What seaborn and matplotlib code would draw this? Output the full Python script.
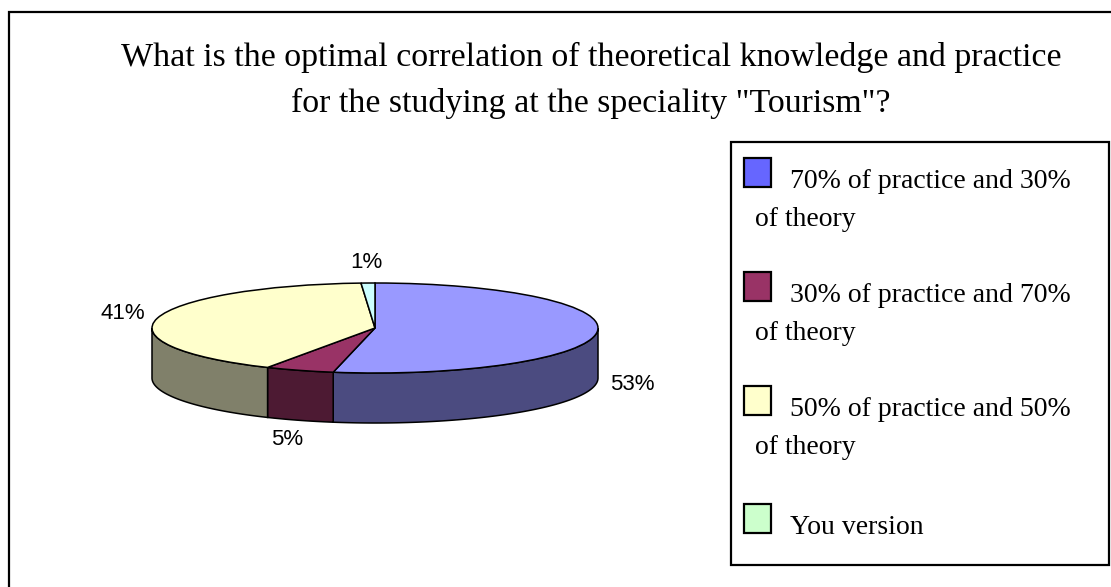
import numpy as np
import seaborn as sns
import matplotlib.pyplot as plt
from matplotlib.patches import Rectangle, Polygon

categories = ['70% of practice and 30%\nof theory',
              '30% of practice and 70%\nof theory',
              '50% of practice and 50%\nof theory',
              'You version']
values = [53, 5, 41, 1]
labels = ['53%', '5%', '41%', '1%']
top_colors = ['#9999FF', '#993366', '#FFFFCC', '#CCFFFF']
side_colors = ['#4B4B80', '#4D1A33', '#80806A', '#668080']
legend_colors = ['#6666FF', '#993366', '#FFFFCC', '#CCFFCC']

sns.set_style('white')
plt.rcParams['font.family'] = ['Liberation Serif', 'DejaVu Sans']
plt.rcParams['text.color'] = 'black'

W, H = 1111, 587
fig = plt.figure(figsize=(W / 100, H / 100), dpi=100)

# outer chart frame
fig.patches.append(Rectangle((9 / W, -0.1), 1.2, (H - 12) / H + 0.1, transform=fig.transFigure,
                             fill=False, edgecolor='black', linewidth=1.6))

fig.text(591 / W, (H - 57) / H, 'What is the optimal correlation of theoretical knowledge and practice',
         ha='center', va='center', fontsize=24.4)
fig.text(591 / W, (H - 103) / H, 'for the studying at the speciality "Tourism"?',
         ha='center', va='center', fontsize=24.4)

# pie axes: centre at (375, 328) px, rx 223 px, ry 45 px
left, right, top, bottom = 100, 650, 240, 470
ax = fig.add_axes([left / W, (H - bottom) / H, (right - left) / W, (bottom - top) / H])
cx, cy, rx, ry = 375, 328, 223, 45
depth = 50 / ry

wedges, _ = ax.pie(values, colors=top_colors, startangle=90, counterclock=False,
                   wedgeprops=dict(edgecolor='black', linewidth=1.1, zorder=3))
ax.set_aspect('auto')
ax.set_xlim((left - cx) / rx, (right - cx) / rx)
ax.set_ylim((cy - bottom) / ry, (cy - top) / ry)
ax.axis('off')

# side walls for the visible front half
for w, sc in zip(wedges, side_colors):
    t1, t2 = sorted([w.theta1, w.theta2])
    for k in (-1, 0, 1):
        a = max(t1, -180 + 360 * k)
        b = min(t2, 0 + 360 * k)
        if b > a:
            t = np.radians(np.linspace(a, b, 100))
            xs = np.cos(t)
            ys = np.sin(t)
            pts = np.column_stack([np.r_[xs, xs[::-1]], np.r_[ys, ys[::-1] - depth]])
            ax.add_patch(Polygon(pts, closed=True, facecolor=sc, edgecolor='black',
                                 linewidth=1.1, zorder=2))

# percentage labels
for w, lab in zip(wedges, labels):
    t = np.radians((w.theta1 + w.theta2) / 2)
    x = 1.16 * np.cos(t)
    y = 1.45 * np.sin(t) - (depth if np.sin(t) < 0 else 0)
    ax.text(x, y, lab, ha='center', va='center', fontsize=16, family='Liberation Sans')

# legend box
fig.patches.append(Rectangle((731 / W, (H - 565) / H), 378 / W, 423 / H, transform=fig.transFigure,
                             facecolor='white', edgecolor='black', linewidth=1.6))
square_tops = [158, 272, 386, 504]
for cat, col, st in zip(categories, legend_colors, square_tops):
    fig.patches.append(Rectangle((744 / W, (H - st - 29) / H), 27 / W, 29 / H,
                                 transform=fig.transFigure, facecolor=col,
                                 edgecolor='black', linewidth=1.6, zorder=3))
    lines = cat.split('\n')
    fig.text(790 / W, (H - st - 30) / H, lines[0], ha='left', va='baseline', fontsize=20)
    if len(lines) > 1:
        fig.text(755 / W, (H - st - 68) / H, lines[1], ha='left', va='baseline', fontsize=20)

fig.savefig('out.png', dpi=100)
